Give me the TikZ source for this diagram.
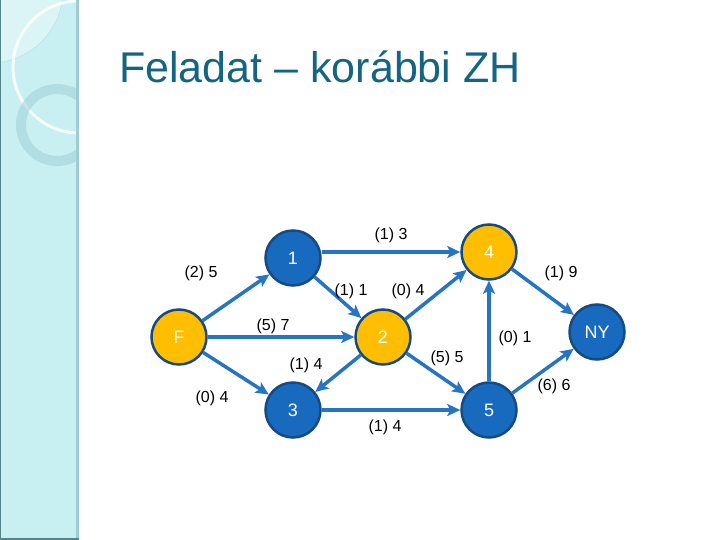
\documentclass[tikz,border=0pt]{standalone}
\usepackage{fontspec}
\setmainfont{Liberation Sans}
\usepackage{tikz}
\usetikzlibrary{arrows.meta}
\definecolor{nodeblue}{RGB}{24,106,190}
\definecolor{nodeyellow}{RGB}{255,190,0}
\definecolor{nodeedge}{RGB}{22,74,130}
\definecolor{edgeblue}{RGB}{38,116,196}
\definecolor{titleteal}{RGB}{20,100,132}
\definecolor{sidecyan}{RGB}{200,240,243}
\definecolor{sideedge}{RGB}{158,204,210}
\definecolor{sidedark}{RGB}{84,132,138}

\begin{document}
\begin{tikzpicture}[x=1pt, y=-1pt,
  bnode/.style={circle, draw=nodeedge, line width=2.5pt, fill=nodeblue,
                minimum size=55pt, inner sep=0pt, text=white,
                font=\fontsize{18}{20}\selectfont},
  ynode/.style={bnode, fill=nodeyellow},
  lbl/.style={font=\fontsize{16}{18}\selectfont},
  arrow/.style={-{Stealth[length=13pt, width=12pt, inset=3pt]}, line width=3.5pt, draw=edgeblue},
]
  \useasboundingbox (0,0) rectangle (720,540);
  \fill[white] (0,0) rectangle (720,540);

  % ---- Side bar ----
  \fill[sidecyan] (0,0) rectangle (77,540);
  \begin{scope}
    \clip (0,0) rectangle (77,540);
    \fill[white, opacity=0.35] (-10,-10) circle (73);
    \draw[sideedge!70, line width=0.4pt] (-10,-10) circle (73);
    \draw[white, opacity=0.8, line width=3pt] (79,67) circle (66);
    \draw[sideedge, opacity=0.5, line width=10pt] (57,125) circle (36);
  \end{scope}
  \fill[sideedge] (76,0) rectangle (79,540);
  \fill[sidedark] (0,0) rectangle (1.2,540);
  \fill[sidedark] (0,537.5) rectangle (79,540);

  % ---- Title ----
  \node[anchor=base west, text=titleteal, font=\fontsize{43}{48}\selectfont, inner sep=0pt]
    (title) at (119,83) {Feladat – korábbi ZH};

  % ---- Nodes ----
  \node[ynode] (F)  at (179,337) {F};
  \node[bnode] (n1) at (293,258) {1};
  \node[ynode] (n2) at (383,337) {2};
  \node[bnode] (n3) at (293,410) {3};
  \node[ynode] (n4) at (489,252) {4};
  \node[bnode] (n5) at (489,410) {5};
  \node[bnode] (NY) at (597,332) {NY};

  % ---- Arrows ----
  \draw[arrow] (F) -- (n1);
  \draw[arrow] (F) -- (n2);
  \draw[arrow] (F) -- (n3);
  \draw[arrow] (n1.east |- n4.west) -- (n4.west);
  \draw[arrow] (n1) -- (n2);
  \draw[arrow] (n2) -- (n4);
  \draw[arrow] (n2) -- (n3);
  \draw[arrow] (n2) -- (n5);
  \draw[arrow] (n3) -- (n5);
  \draw[arrow] (n5) -- (n4);
  \draw[arrow] (n4) -- (NY);
  \draw[arrow] (n5) -- (NY);

  % ---- Labels ----
  \node[lbl] (l14) at (391,235) {(1) 3};
  \node[lbl] (lF1) at (201,273) {(2) 5};
  \node[lbl] (l12) at (351,291) {(1) 1};
  \node[lbl] (l24) at (408,291) {(0) 4};
  \node[lbl] (lF2) at (273,326) {(5) 7};
  \node[lbl] (l23) at (306,365) {(1) 4};
  \node[lbl] (lF3) at (212,398) {(0) 4};
  \node[lbl] (l35) at (385,427) {(1) 4};
  \node[lbl] (l25) at (447,358) {(5) 5};
  \node[lbl] (l54) at (515,338) {(0) 1};
  \node[lbl] (l4N) at (561,273) {(1) 9};
  \node[lbl] (l5N) at (554,386) {(6) 6};
\end{tikzpicture}
\end{document}
